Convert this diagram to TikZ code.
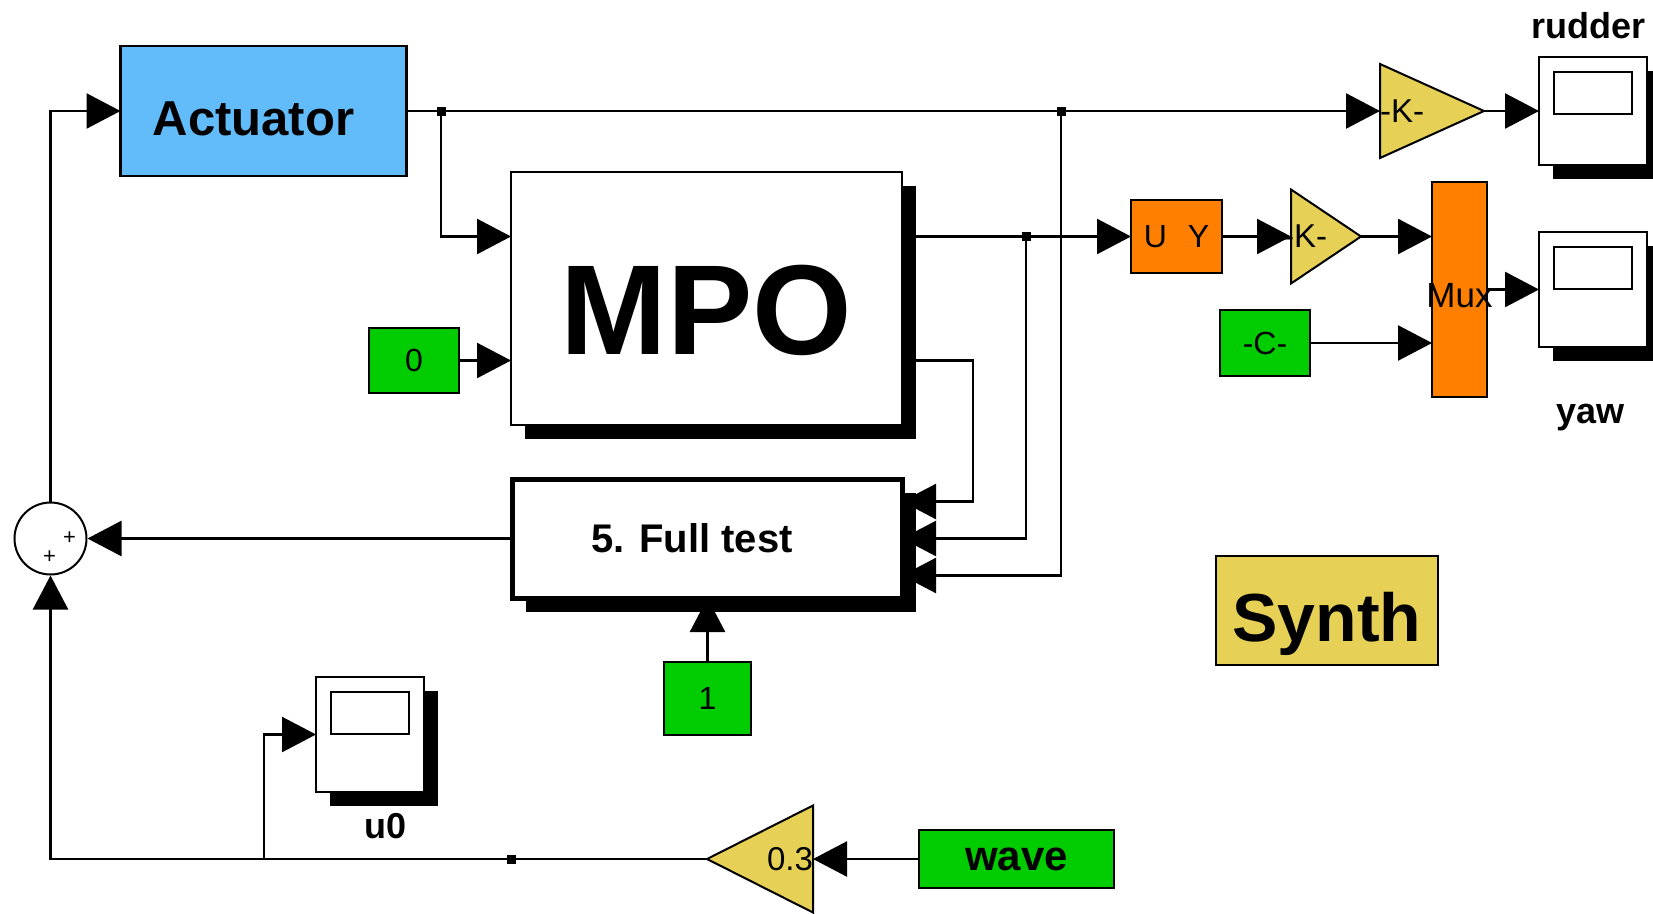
\documentclass[tikz,border=0pt]{standalone}
\usepackage{fontspec}
\setmainfont{Liberation Sans}
\usetikzlibrary{arrows.meta,positioning,calc,backgrounds,shadows}
\definecolor{actblue}{HTML}{62BCFA}
\definecolor{constgreen}{HTML}{00CC00}
\definecolor{muxorange}{HTML}{FF8000}
\definecolor{gainyellow}{HTML}{E6D056}
\newcommand{\fsz}[1]{\fontsize{#1}{#1}\selectfont}

\begin{document}
\begin{tikzpicture}[x=1pt, y=-1pt,
  sig/.style={line width=2.5pt, -{Triangle[length=34pt,width=35pt]}},
  blk/.style={draw, line width=2.5pt, inner sep=0pt, outer sep=0pt},
  constbox/.style={blk, fill=constgreen, font=\fsz{32}},
  blackshadow/.style={drop shadow={shadow xshift=14pt, shadow yshift=-14pt, fill=black, opacity=1}},
  scopebox/.style={blk, fill=white, minimum width=108pt, blackshadow,
    path picture={\draw[line width=2.5pt] ([xshift=15pt,yshift=-15pt]path picture bounding box.north west)
      rectangle ([xshift=-15pt,yshift=-57pt]path picture bounding box.north east);}},
  gainbox/.style={inner sep=0pt, outer sep=0pt, font=\fsz{33}, minimum height=94pt},
  tri/.style={draw, fill=gainyellow, line width=2pt},
  sumcirc/.style={draw, circle, line width=2pt, minimum size=72pt, inner sep=0pt, fill=white},
  junc/.style={fill, rectangle, minimum size=9pt, inner sep=0pt},
  lbl/.style={font=\fsz{36}\bfseries, anchor=base}]
  \useasboundingbox (0,0) rectangle (1653,913);

  % main blocks
  \node[blk, fill=actblue, minimum width=286pt, minimum height=130pt, font=\fsz{49}\bfseries,
        text height=49pt, text depth=0pt] (act) at (263.5,111) {Actuator\hspace*{20pt}};
  \node[blk, fill=white, line width=2pt, minimum width=391pt, minimum height=253pt, blackshadow,
        font=\fsz{128}\bfseries, text height=112pt, text depth=0pt] (mpo) at (706.5,298.5) {MPO};
  \node[blk, fill=white, line width=5pt, minimum width=390pt, minimum height=119pt, blackshadow,
        font=\fsz{40}\bfseries] (full) at (707,538.5) {5. Full test\hspace*{30pt}};
  \node[sumcirc] (sum) at (50.5,538.5) {};
  \node[font=\fsz{22}] (plusa) at ($(sum)+(19,0)$) {+};
  \node[font=\fsz{22}] (plusb) at ($(sum)+(-1,19)$) {+};

  % sources
  \node[constbox, minimum width=90pt, minimum height=65pt] (zero) at (414,360.5) {0};
  \node[constbox, minimum width=87pt, minimum height=73pt] (one) at (707.5,698.5) {1};
  \node[constbox, minimum width=195pt, minimum height=58pt, font=\fsz{42}\bfseries] (wave) at (1016.5,859) {wave};
  \node[constbox, minimum width=90pt, minimum height=66pt] (cst) at (1265,343) {-C-};
  \node[gainbox, text width=106pt, minimum height=107pt, align=right] (g03) at (760,859) {0.3};

  % outputs
  \node[scopebox, minimum height=115pt] (u0) at (370,734.5) {};
  \node[lbl] (u0lbl) at (386,838) {u0};
  \node[gainbox, text width=104pt, align=left] (krud) at (1432,111) {-K-};
  \node[scopebox, minimum height=108pt] (rudder) at (1593,111) {};
  \node[lbl] (rudlbl) at (1588,38) {rudder};
  \node[blk, fill=muxorange, minimum width=91pt, minimum height=73pt, font=\fsz{32}] (uy) at (1176.5,236.5) {U\hspace{0.65em}Y};
  \node[gainbox, text width=70pt, align=left] (kyaw) at (1326,236.5) {\hspace*{-8pt}-K-};
  \node[blk, fill=muxorange, minimum width=55pt, minimum height=215pt, font=\fsz{35},
        text height=35pt, text depth=0pt] (mux) at (1459.5,289.5) {\makebox[0pt]{Mux}};
  \node[scopebox, minimum height=115pt] (yaw) at (1593,289.5) {};
  \node[lbl] (yawlbl) at (1590,423) {yaw};
  \node[blk, fill=gainyellow, minimum width=222pt, minimum height=109pt, font=\fsz{68}\bfseries,
        text height=62pt, text depth=0pt] (synth) at (1327,610.5) {Synth};

  % gain triangles
  \begin{scope}[on background layer]
    \foreach \g in {krud,kyaw}
      \draw[tri] (\g.north west) -- (\g.east) -- (\g.south west) -- cycle;
    \draw[tri] (g03.north east) -- (g03.west) -- (g03.south east) -- cycle;
  \end{scope}

  % branch points
  \node[junc] (j1) at (441,111) {};
  \node[junc] (j2) at (1061,111) {};
  \node[junc] (j3) at (1026,236.5) {};
  \node[junc] (j4) at (511,859) {};
  \coordinate (bend) at (973,360.5);
  \coordinate (tap) at (264,859);

  % signals
  \draw[sig] (sum.north) |- (act.west);
  \draw[sig] (act.east) -- (j1.center) -- (j2.center) -- (krud.west);
  \draw[sig] (j1.center) |- ([yshift=62pt]mpo.west);
  \draw[sig] (zero.east) -- (zero.east -| mpo.west);
  \draw[sig] ([yshift=62pt]mpo.east) -- (j3.center) -- (uy.west);
  \draw[sig] ([yshift=-62pt]mpo.east) -- (bend) |- ([yshift=37pt]full.east);
  \draw[sig] (j3.center) |- (full.east);
  \draw[sig] (j2.center) |- ([yshift=-37pt]full.east);
  \draw[sig] (full.west) -- (sum.east);
  \draw[sig] (one.north) -- (one.north |- full.south);
  \draw[sig] (wave.west) -- (g03.east);
  \draw[sig] (g03.west) -- (j4.center) -| (sum.south);
  \draw[sig] (tap) |- (u0.west);
  \draw[sig] (krud.east) -- (rudder.west);
  \draw[sig] (uy.east) -- (kyaw.west);
  \draw[sig] (kyaw.east) -- (kyaw.east -| mux.west);
  \draw[sig] (cst.east) -- (cst.east -| mux.west);
  \draw[sig] (mux.east) -- (yaw.west);
\end{tikzpicture}
\end{document}
